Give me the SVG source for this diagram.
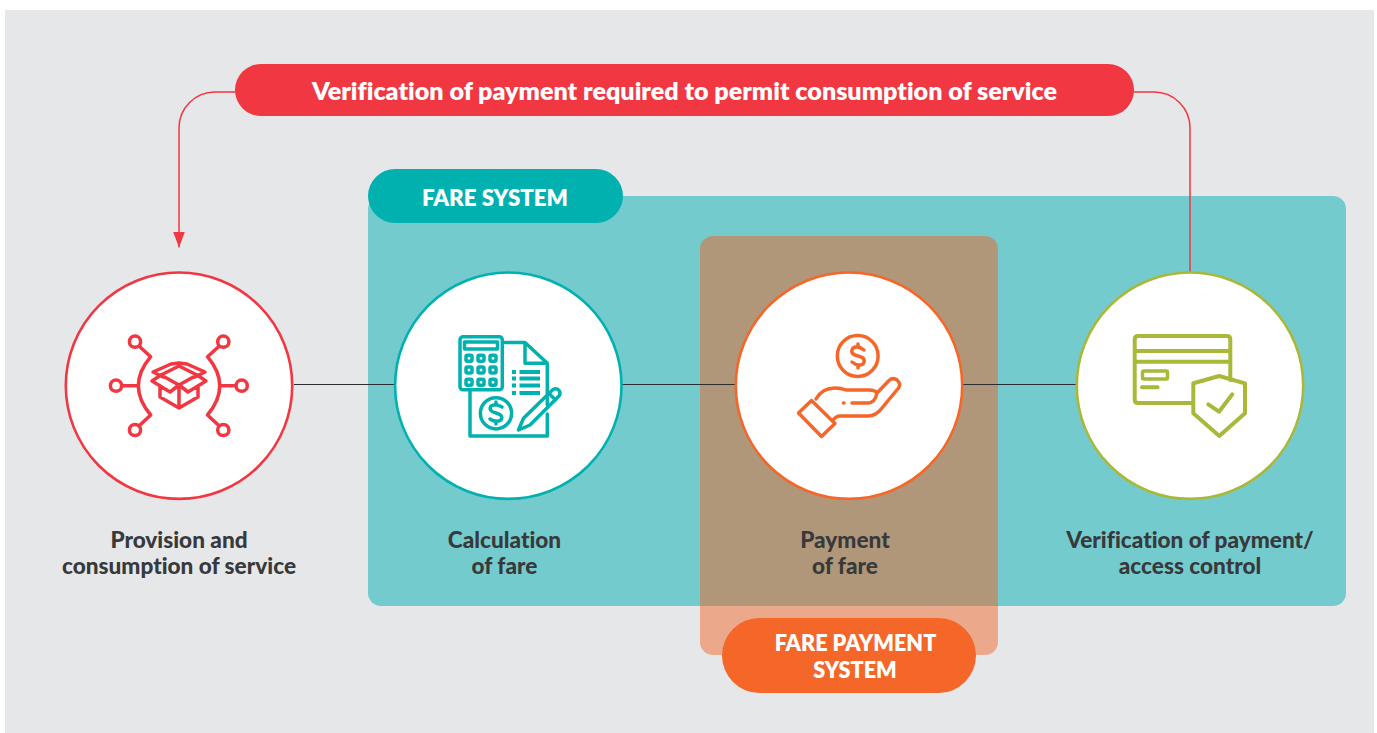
<svg xmlns="http://www.w3.org/2000/svg" width="1377" height="733" viewBox="0 0 1377 733">
<style>
text{font-variant-ligatures:none;font-family:"Lato","Noto Sans","Liberation Sans",sans-serif;text-anchor:middle}
.lbl{font-weight:900;font-size:22.600px;fill:#38393b}
.tag{font-weight:800;font-size:22.300px;fill:#fff}
.tag2{font-size:21.600px}
.ring{fill:#fff;stroke-width:2.600}
.ic{fill:none;stroke-width:3.500;stroke-linejoin:round;stroke-linecap:round}
.r{stroke:#f03742}.t{stroke:#00b1b0}.o{stroke:#f46728}.g{stroke:#aab83a}
.link{fill:none;stroke:#2b2d33;stroke-width:1}
.red{fill:none;stroke:#f03742;stroke-width:1.500}
</style>
<defs>
<marker id="ah" markerUnits="userSpaceOnUse" markerWidth="16" markerHeight="12" viewBox="0 0 16 12" refX="16" refY="6" orient="auto"><path d="M0 0L16 6L0 12Z" fill="#f03742"/></marker>
</defs>
<rect width="1377" height="733" fill="#fff"/>
<rect x="5" y="10" width="1369" height="723" fill="#e6e7e9"/>

<g id="fare-system-area"><rect x="368" y="196" width="978" height="410" rx="13" fill="#74cbcd"/></g>
<g id="fare-payment-area">
<path d="M700 606V249a13 13 0 0 1 13-13H985a13 13 0 0 1 13 13V606Z" fill="#b09779"/>
<path d="M700 606H998V642a13 13 0 0 1-13 13H713a13 13 0 0 1-13-13Z" fill="#eba88b"/>
</g>

<g id="connectors">
<path class="link" d="M294 384.500H395M622 384.500H736M962 384.500H1077"/>
<path class="red" d="M236 92H215a36 36 0 0 0-36 36V247.500" marker-end="url(#ah)"/>
<path class="red" d="M1133 92H1154a36 36 0 0 1 36 36V273"/>
</g>

<g id="verification-banner">
<rect x="235" y="64" width="899" height="52" rx="26" fill="#f03742"/>
<text x="684.500" y="100" style="font-weight:800;font-size:25.100px;fill:#fff">Verification of payment required to permit consumption of service</text>
</g>
<g id="fare-system-tag">
<rect x="368" y="169" width="255" height="54" rx="27" fill="#00b1b0"/>
<text class="tag" x="495" y="205.500">FARE SYSTEM</text>
</g>
<g id="fare-payment-tag">
<rect x="722" y="618" width="254" height="75" rx="37.500" fill="#f46728"/>
<text class="tag tag2" x="855.500" y="651">FARE PAYMENT</text>
<text class="tag tag2" x="855" y="678">SYSTEM</text>
</g>

<g id="node-provision">
<circle class="ring r" cx="179" cy="385.700" r="113.200"/>
<g class="ic r">
<circle cx="135" cy="341.700" r="5.600"/><circle cx="116" cy="385.700" r="5.600"/><circle cx="135" cy="430" r="5.600"/>
<circle cx="223.300" cy="341.700" r="5.600"/><circle cx="241.700" cy="385.700" r="5.600"/><circle cx="223.300" cy="430" r="5.600"/>
<path d="M139.500 346.500L150.700 356.700Q126 386 150.700 415L139.500 425.500M122 385.700H138"/>
<path d="M218.800 346.500L207.500 356.700Q232 386 207.500 415L218.800 425.500M235.500 385.700H220"/>
<path d="M179 366L197 375L179 385L161 375ZM179 363L171 364L153 372L163 377M179 363L187 364L205 372L195 377"/>
<path d="M161 375L152 381L170 392L179 385L188 392L206 381L197 375M160 387V397L179 408L198 397V387M179 385V408"/>
</g>
</g>
<g id="node-calculation">
<circle class="ring t" cx="508.300" cy="385.700" r="113.200"/>
<g class="ic t">
<rect x="460" y="336.800" width="42.300" height="53" rx="3"/>
<rect x="464.500" y="342" width="33" height="7"/>
<rect x="466" y="355.300" width="6" height="6" rx="1.500"/><rect x="478" y="355.300" width="6" height="6" rx="1.500"/><rect x="490" y="355.300" width="6" height="6" rx="1.500"/>
<rect x="466" y="367" width="6" height="6" rx="1.500"/><rect x="478" y="367" width="6" height="6" rx="1.500"/><rect x="490" y="367" width="6" height="6" rx="1.500"/>
<rect x="466" y="379.300" width="6" height="6" rx="1.500"/><rect x="478" y="379.300" width="6" height="6" rx="1.500"/><rect x="490" y="379.300" width="6" height="6" rx="1.500"/>
<path d="M505 342.500H525L547.300 363.300V405M525 342.500V363.300H547.300M547.300 414V436H470V391.500"/>
<circle cx="496" cy="413.300" r="15.600"/>
<path d="M502 407Q496 403 491 406Q488 411 496 413Q504 415 501 420Q496 423 490 419M496 402V405M496 421V424"/>
<path d="M512 372H516M512 378.500H516M512 385.500H516M512 393H516M519.500 372H540M519.500 378.500H540M519.500 385.500H540M519.500 393H540" stroke-width="4" stroke-linecap="butt"/>
<path d="M518.500 430L523.500 418.300L553 389.500Q557 387.500 559.500 391Q561 394 558.500 396.500L530 425ZM549 393.500L555.500 400"/>
</g>
</g>
<g id="node-payment">
<circle class="ring o" cx="849" cy="385.700" r="113.200"/>
<g class="ic o">
<circle cx="857.700" cy="356" r="20.400"/>
<path d="M864 350Q858 345 853 348Q849 354 858 356Q867 358 863 364Q858 367 852 362M858 344V347M858 365V368"/>
<path d="M798.500 413L811.500 400.500L835 423.500L821.500 436.500ZM816 399Q822 388 835 388Q841 388 846 390H869Q875 390 877 393L889 380.500Q893 377 897 380Q901.500 384 898.500 388L882 408Q876 416 868 416H840Q836 416 833 420M852 403H868Q875 403 877 393M843.500 403H844"/>
</g>
</g>
<g id="node-verification">
<circle class="ring g" cx="1190" cy="385.700" r="113.200"/>
<g class="ic g" style="stroke-width:4">
<path d="M1192 403H1138Q1134.700 403 1134.700 399.500V339.500Q1134.700 336 1138 336H1227Q1230.300 336 1230.300 339.500V380M1134.700 351H1230.300M1134.700 361.700H1230.300"/>
<rect x="1142.500" y="371" width="25" height="8" rx="1.500" style="stroke-width:3.500"/>
<path d="M1142 387.300H1157.500"/>
<path d="M1219.300 376L1245 383.300V413.300L1219.300 436L1193.300 413.300V383.300Z"/>
<path d="M1208.300 404.300L1219 411.700L1232.300 394.300"/>
</g>
</g>

<g id="labels">
<text class="lbl" x="179" y="548">Provision and</text><text class="lbl" x="179" y="574">consumption of service</text>
<text class="lbl" x="504.500" y="548">Calculation</text><text class="lbl" x="504.500" y="574">of fare</text>
<text class="lbl" x="845" y="548">Payment</text><text class="lbl" x="845" y="574">of fare</text>
<text class="lbl" x="1190" y="548">Verification of payment/</text><text class="lbl" x="1190" y="574">access control</text>
</g>
</svg>
